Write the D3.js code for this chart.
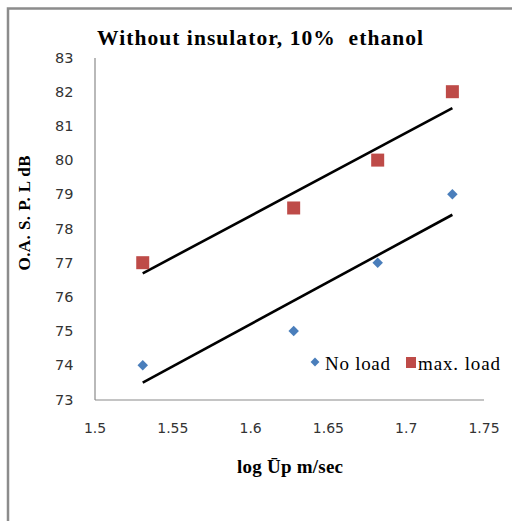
<!DOCTYPE html>
<html>
<head>
<meta charset="utf-8">
<script src="https://cdn.jsdelivr.net/npm/d3@7"></script>
<style>
  body { margin: 0; background: #fff; }
  svg { display: block; }
  text { white-space: pre; }
</style>
</head>
<body>
<svg width="512" height="521"></svg>
<script>
// data
const logUp = [1.531, 1.628, 1.682, 1.730];
const noLoad = [74, 75, 77, 79];
const maxLoad = [77, 78.6, 80, 82];
const xTicks = [1.5, 1.55, 1.6, 1.65, 1.7, 1.75];
const yTicks = [73, 74, 75, 76, 77, 78, 79, 80, 81, 82, 83];

const svg = d3.select("svg");

// outer frame (only left and top edges visible)
svg.append("path")
  .attr("d", "M8,521V8.5H512")
  .attr("fill", "none")
  .attr("stroke", "#8c8c8c")
  .attr("stroke-width", 2.5);

const x = d3.scaleLinear().domain([1.5, 1.75]).range([94.5, 483.5]);
const y = d3.scaleLinear().domain([73, 83]).range([399.5, 57.5]);

// axes
svg.append("g")
  .attr("transform", "translate(0,399.5)")
  .call(d3.axisBottom(x).tickValues(xTicks).tickSize(0).tickPadding(24).tickFormat(d3.format("")))
  .call(g => g.select(".domain").attr("stroke", "#8a8a8a").attr("stroke-width", 1.2))
  .call(g => g.selectAll("text").attr("font-family", "DejaVu Sans").attr("font-size", 14).attr("fill", "#333"));

svg.append("g")
  .attr("transform", "translate(94.5,0)")
  .call(d3.axisLeft(y).tickValues(yTicks).tickSize(0).tickPadding(21))
  .call(g => g.select(".domain").attr("stroke", "#8a8a8a").attr("stroke-width", 1.2))
  .call(g => g.selectAll("text").attr("font-family", "DejaVu Sans").attr("font-size", 14.5).attr("fill", "#333"));

// titles
svg.append("text")
  .attr("x", 97).attr("y", 45)
  .attr("font-family", "Liberation Serif").attr("font-weight", "bold").attr("font-size", 21.5)
  .attr("textLength", 326).attr("lengthAdjust", "spacing")
  .text("Without insulator, 10%  ethanol");

svg.append("text")
  .attr("x", 237).attr("y", 473)
  .attr("font-family", "Liberation Serif").attr("font-weight", "bold").attr("font-size", 19)
  .attr("textLength", 106).attr("lengthAdjust", "spacing")
  .text("log Ūp m/sec");

svg.append("text")
  .attr("transform", "translate(30,213) rotate(-90)")
  .attr("text-anchor", "middle")
  .attr("font-family", "Liberation Serif").attr("font-weight", "bold").attr("font-size", 17)
  .attr("textLength", 115).attr("lengthAdjust", "spacing")
  .text("O.A. S. P. L dB");

// least squares trend lines
function fit(xs, ys) {
  const mx = d3.mean(xs), my = d3.mean(ys);
  const b = d3.sum(xs, (v, i) => (v - mx) * (ys[i] - my)) / d3.sum(xs, v => (v - mx) ** 2);
  return v => my + b * (v - mx);
}
const line = d3.line().x(d => x(d[0])).y(d => y(d[1]));
[noLoad, maxLoad].forEach(ys => {
  const f = fit(logUp, ys);
  const ends = d3.extent(logUp);
  svg.append("path")
    .attr("d", line(ends.map(v => [v, f(v)])))
    .attr("stroke", "#000").attr("stroke-width", 2.6).attr("fill", "none");
});

// markers
const diamond = d3.symbol().type(d3.symbolDiamond2).size(70);
svg.append("g").selectAll("path")
  .data(noLoad)
  .join("path")
  .attr("d", diamond)
  .attr("transform", (d, i) => `translate(${x(logUp[i])},${y(d)})`)
  .attr("fill", "#4a7ebb");

svg.append("g").selectAll("rect")
  .data(maxLoad)
  .join("rect")
  .attr("x", (d, i) => x(logUp[i]) - 6.5)
  .attr("y", d => y(d) - 6.5)
  .attr("width", 13).attr("height", 13)
  .attr("fill", "#be4b48");

// legend
const legend = svg.append("g").attr("font-family", "Liberation Serif").attr("font-size", 19);
legend.append("path").attr("d", d3.symbol().type(d3.symbolDiamond2).size(50))
  .attr("transform", "translate(315,362)").attr("fill", "#4a7ebb");
legend.append("text").attr("x", 325).attr("y", 369.5)
  .attr("textLength", 65).attr("lengthAdjust", "spacing").text("No load");
legend.append("rect").attr("x", 406).attr("y", 357).attr("width", 10).attr("height", 11).attr("fill", "#be4b48");
legend.append("text").attr("x", 418).attr("y", 369.5)
  .attr("textLength", 82).attr("lengthAdjust", "spacing").text("max. load");
</script>
</body>
</html>
